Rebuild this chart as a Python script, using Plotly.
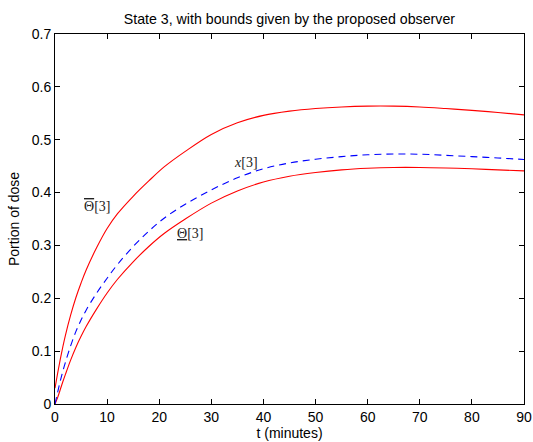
import plotly.graph_objects as go

# time samples (minutes)
t = [0, 0.5, 1, 1.5, 2, 3, 4, 5, 6, 8, 10, 12, 15, 18, 21, 25, 30, 35, 40,
     45, 50, 55, 60, 65, 70, 75, 80, 85, 90]

# upper bound produced by the observer
upper = [0.030, 0.058, 0.084, 0.108, 0.130, 0.168, 0.201, 0.229, 0.254, 0.296,
         0.332, 0.360, 0.393, 0.422, 0.449, 0.478, 0.510, 0.532, 0.546, 0.554,
         0.559, 0.562, 0.5635, 0.5635, 0.562, 0.559, 0.5555, 0.5515, 0.547]

# true state x[3]
state = [0, 0.022, 0.043, 0.062, 0.079, 0.110, 0.137, 0.159, 0.178, 0.210,
         0.238, 0.264, 0.298, 0.327, 0.352, 0.378, 0.405, 0.428, 0.445, 0.456,
         0.463, 0.468, 0.4715, 0.473, 0.4725, 0.4705, 0.468, 0.4655, 0.4625]

# lower bound produced by the observer
lower = [0, 0.012, 0.027, 0.042, 0.056, 0.083, 0.107, 0.128, 0.147, 0.180,
         0.210, 0.236, 0.269, 0.298, 0.323, 0.350, 0.380, 0.403, 0.420, 0.431,
         0.438, 0.443, 0.446, 0.4475, 0.4475, 0.4465, 0.445, 0.443, 0.441]

x_ticks = [0, 10, 20, 30, 40, 50, 60, 70, 80, 90]
y_ticks = [0, 0.1, 0.2, 0.3, 0.4, 0.5, 0.6, 0.7]

SANS = "Liberation Sans, Arial, sans-serif"
SERIF = "Liberation Serif"

fig = go.Figure()
fig.add_trace(go.Scatter(x=t, y=upper, mode="lines", line_shape="spline",
                         line=dict(color="#ff0000", width=1.1)))
fig.add_trace(go.Scatter(x=t, y=lower, mode="lines", line_shape="spline",
                         line=dict(color="#ff0000", width=1.1)))
fig.add_trace(go.Scatter(x=t, y=state, mode="lines", line_shape="spline",
                         line=dict(color="#0000ff", width=1.1, dash="7px,5px")))

label_font = dict(family=SERIF, size=14, color="#222")
fig.add_annotation(x=8.1, y=0.373,
                   text='<span style="text-decoration:overline">Θ</span>[3]',
                   showarrow=False, font=label_font)
fig.add_annotation(x=25.85, y=0.322, text='<u>Θ</u>[3]',
                   showarrow=False, font=label_font)
fig.add_annotation(x=36.7, y=0.456, text='<i>x</i>[3]',
                   showarrow=False, font=label_font)

axis_common = dict(
    showgrid=False, zeroline=False, showline=True, linecolor="black",
    linewidth=1, mirror="ticks", ticks="inside", ticklen=5, tickcolor="black",
    automargin=False,
    tickfont=dict(family=SANS, size=14, color="black"),
)

fig.update_layout(
    width=533, height=442,
    margin=dict(l=55, r=9, t=34, b=38),
    paper_bgcolor="white", plot_bgcolor="white",
    showlegend=False,
    title=dict(text="State 3, with bounds given by the proposed observer",
               x=0.543, xanchor="center", y=0.958, yanchor="middle",
               font=dict(family=SANS, size=14.2, color="black")),
    xaxis=dict(range=[0, 90], tickvals=x_ticks,
               title=dict(text="t (minutes)", standoff=0,
                          font=dict(family=SANS, size=14, color="black")),
               **axis_common),
    yaxis=dict(range=[0, 0.7], tickvals=y_ticks,
               title=dict(text="Portion of dose", standoff=8,
                          font=dict(family=SANS, size=14, color="black")),
               **axis_common),
)

fig.write_html("out.html")
